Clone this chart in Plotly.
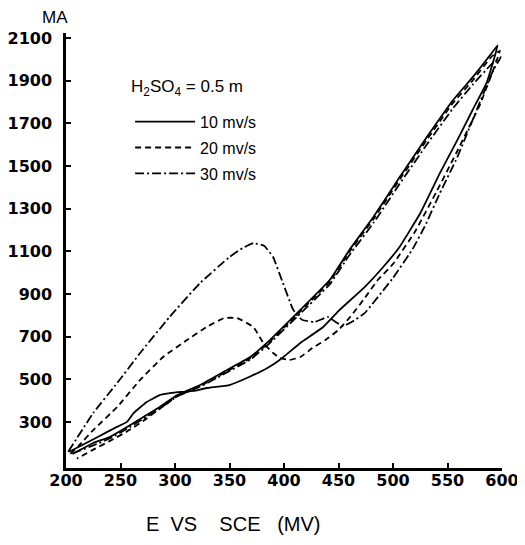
import plotly.graph_objects as go

# 10 mv/s (solid)
E10_fwd = [203, 215, 230, 245, 256, 262, 274, 286, 302, 317, 329, 350, 369, 384, 396, 415, 436, 451, 474, 491, 506, 525, 543, 559, 573, 586, 596]
I10_fwd = [160, 192, 232, 272, 300, 341, 393, 426, 440, 445, 459, 473, 513, 550, 590, 670, 745, 825, 932, 1026, 1120, 1278, 1466, 1621, 1762, 1890, 2065]
E10_rev = [590, 573, 555, 531, 506, 482, 460, 442, 412, 384, 369, 344, 323, 302, 286, 271, 256, 240, 225, 206]
I10_rev = [2025, 1915, 1808, 1635, 1447, 1260, 1106, 965, 810, 669, 604, 533, 473, 426, 370, 323, 276, 229, 201, 150]

# 20 mv/s (dashed)
E20_fwd = [204, 212, 225, 247, 268, 289, 311, 329, 345, 357, 372, 381, 390, 396, 405, 415, 426, 438, 450, 462, 474, 486, 500, 520, 540, 560, 580, 598]
I20_fwd = [150, 190, 262, 370, 497, 604, 684, 745, 787, 787, 745, 670, 623, 600, 590, 604, 646, 684, 731, 800, 880, 965, 1040, 1190, 1380, 1580, 1790, 2040]
E20_rev = [590, 573, 555, 531, 506, 482, 460, 442, 412, 384, 369, 344, 323, 302, 286, 271, 256, 240, 225, 210]
I20_rev = [2010, 1900, 1795, 1622, 1435, 1250, 1097, 957, 803, 662, 598, 527, 468, 420, 362, 305, 255, 210, 170, 128]

# 30 mv/s (dash-dot)
E30_fwd = [202, 225, 247, 268, 295, 323, 350, 362, 372, 382, 390, 399, 408, 412, 417, 428, 440, 447, 454, 462, 474, 500, 518, 529, 543, 559, 573, 592, 599]
I30_fwd = [160, 342, 483, 623, 792, 951, 1073, 1115, 1138, 1125, 1073, 951, 830, 800, 778, 768, 792, 770, 749, 768, 810, 975, 1110, 1215, 1372, 1541, 1715, 1949, 2010]
E30_rev = [590, 573, 555, 531, 506, 482, 460, 442, 412, 384, 369, 344, 323, 302, 286, 271, 256, 240, 225, 205]
I30_rev = [1975, 1880, 1770, 1600, 1415, 1232, 1082, 945, 793, 655, 592, 522, 465, 420, 362, 315, 268, 222, 190, 150]

series_names = ["10 mv/s", "20 mv/s", "30 mv/s"]
x_ticks = [200, 250, 300, 350, 400, 450, 500, 550, 600]
y_ticks = [300, 500, 700, 900, 1100, 1300, 1500, 1700, 1900, 2100]

styles = ["solid", "6px,4px", "9px,3px,2px,3px"]
data = [(E10_fwd + E10_rev, I10_fwd + I10_rev),
        (E20_fwd + E20_rev, I20_fwd + I20_rev),
        (E30_fwd + E30_rev, I30_fwd + I30_rev)]

fig = go.Figure()
for k, ((ex, iy), name, dash) in enumerate(zip(data, series_names, styles)):
    fig.add_trace(go.Scatter(
        x=ex, y=iy, mode="lines", name=name, legendgroup=f"g{k}",
        line=dict(color="black", width=1.8, dash=dash, shape="spline", smoothing=0.3),
    ))

tickfont = dict(family="DejaVu Sans", size=16, color="black", weight="bold")

# page body has a default 8px margin, so the figure is sized to fit the 525x545 window
fig.update_layout(
    width=517, height=537,
    margin=dict(l=58, r=23, t=25, b=77),
    paper_bgcolor="white", plot_bgcolor="white",
    showlegend=True,
    legend=dict(
        x=0.147, y=0.835, xanchor="left", yanchor="top",
        bgcolor="rgba(0,0,0,0)",
        font=dict(family="Liberation Sans", size=16, color="black"),
        itemwidth=60,
        tracegroupgap=2,
    ),
    xaxis=dict(
        range=[200, 600], tickvals=x_ticks, ticktext=[str(v) for v in x_ticks],
        showline=True, linecolor="black", linewidth=2.5,
        ticks="inside", ticklen=5, tickwidth=1.5, tickcolor="black",
        showgrid=False, zeroline=False, automargin=False,
        tickfont=tickfont, ticklabelstandoff=-4,
    ),
    yaxis=dict(
        range=[84, 2123], tickvals=y_ticks, ticktext=[str(v) for v in y_ticks],
        showline=True, linecolor="black", linewidth=2.5,
        ticks="inside", ticklen=5, tickwidth=1.5, tickcolor="black",
        showgrid=False, zeroline=False, automargin=False,
        tickfont=tickfont, ticklabelstandoff=8,
    ),
    annotations=[
        dict(text="MA", xref="paper", yref="paper", x=-0.06, y=1.036, yanchor="middle",
             showarrow=False, font=dict(family="Liberation Sans", size=17, color="black")),
        dict(text="H<sub>2</sub>SO<sub>4</sub> = 0.5 m", xref="paper", yref="paper",
             x=0.145, y=0.874, xanchor="left", yanchor="middle", showarrow=False,
             font=dict(family="Liberation Sans", size=17, color="black")),
        dict(text="E&nbsp; VS&nbsp;&nbsp;&nbsp; SCE&nbsp;&nbsp; (MV)", xref="paper", yref="paper",
             x=0.382, y=-0.129, yanchor="middle", showarrow=False,
             font=dict(family="Liberation Sans", size=20, color="black")),
    ],
)

fig.write_html("out.html")
